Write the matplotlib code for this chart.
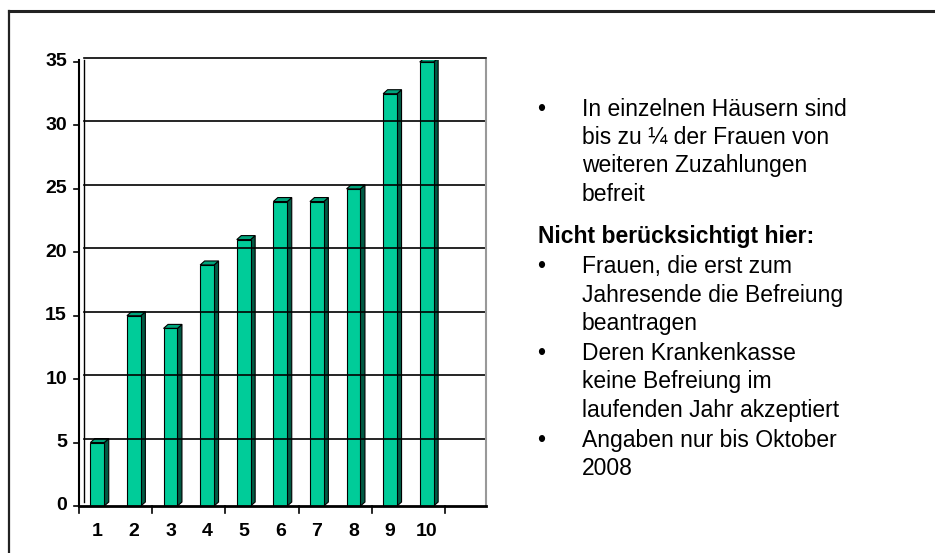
import matplotlib
matplotlib.use('Agg')
import matplotlib.pyplot as plt
from matplotlib.patches import Polygon, Rectangle
from matplotlib.lines import Line2D

plt.rcParams['font.family'] = ['Liberation Sans', 'DejaVu Sans']

# Daten
categories = ['1', '2', '3', '4', '5', '6', '7', '8', '9', '10']
values = [5, 15, 14, 19, 21, 24, 24, 25, 32.5, 35]
yticks = [0, 5, 10, 15, 20, 25, 30, 35]

bullet_block1 = ['In einzelnen Häusern sind',
                 'bis zu ¼ der Frauen von',
                 'weiteren Zuzahlungen',
                 'befreit']
heading = 'Nicht berücksichtigt hier:'
bullet_items = [['Frauen, die erst zum', 'Jahresende die Befreiung', 'beantragen'],
                ['Deren Krankenkasse', 'keine Befreiung im', 'laufenden Jahr akzeptiert'],
                ['Angaben nur bis Oktober', '2008']]

W, H = 935, 553
fig = plt.figure(figsize=(W / 100, H / 100), dpi=100)

# Rahmen
fig.add_artist(Line2D([9 / W, 9 / W], [0, 1 - 11 / H], color='#222222', lw=1.6))
fig.add_artist(Line2D([9 / W, 1], [1 - 11 / H, 1 - 11 / H], color='#222222', lw=2.2))

# Diagramm
left, right, bottom, top = 79, 486, 506, 60
ax = fig.add_axes([left / W, 1 - bottom / H, (right - left) / W, (bottom - top) / H])
cat_px = 36.6
xmax = 0.5 + (right - left) / cat_px
ymax = 35 + 2 / 12.69
ax.set_xlim(0.5, xmax)
ax.set_ylim(0, ymax)
ax.axis('off')

dx = 4.5 / cat_px
dy = 4 / 12.69

# Gitterlinien an der Rückwand
for t in yticks[1:]:
    ax.plot([0.5 + dx, xmax], [t + dy, t + dy], color='black', lw=1.2, clip_on=False)
ax.plot([0.5 + dx, 0.5 + dx], [dy, ymax], color='black', lw=1.0, clip_on=False)
ax.plot([xmax, xmax], [0, ymax], color='#999999', lw=1.5, clip_on=False)
ax.plot([0.5, 0.5], [0, ymax], color='black', lw=1.5, clip_on=False)
ax.plot([0.5, xmax], [0, 0], color='black', lw=2.0, clip_on=False)

# Balken
w = 0.38
for i, v in enumerate(values):
    x = i + 1
    x0, x1 = x - w / 2, x + w / 2
    side = Polygon([(x1, 0), (x1 + dx, dy), (x1 + dx, v + dy), (x1, v)],
                   facecolor='#005a44', edgecolor='black', lw=0.8)
    topf = Polygon([(x0, v), (x1, v), (x1 + dx, v + dy), (x0 + dx, v + dy)],
                   facecolor='#00a57c', edgecolor='black', lw=0.8)
    front = Rectangle((x0, 0), w, v, facecolor='#00cc99', edgecolor='black', lw=0.8)
    for p in (side, topf, front):
        ax.add_patch(p)

# Achsenbeschriftung
yscale = (bottom - top) / ymax
for t in yticks:
    ax.plot([0.5 - 5 / cat_px, 0.5], [t, t], color='black', lw=1.2, clip_on=False)
    ax.text(0.5 - 12 / cat_px, t, str(t), ha='right', va='center',
            fontsize=14, fontweight='bold')
for b in [0.5, 2.5, 4.5, 6.5, 8.5, 10.5]:
    ax.plot([b, b], [0, -7 / yscale], color='black', lw=1.2, clip_on=False)
for i, c in enumerate(categories):
    ax.text(i + 1, -25 / yscale, c, ha='center', va='center',
            fontsize=14, fontweight='bold')

# Text rechts
fs = 16.5
lines1_y = [116, 144, 172, 201]
fig.text(541 / W, 1 - lines1_y[0] / H, '•', ha='center', va='baseline', fontsize=fs)
for s, y in zip(bullet_block1, lines1_y):
    fig.text(582 / W, 1 - y / H, s, ha='left', va='baseline', fontsize=fs)

fig.text(538 / W, 1 - 243 / H, heading, ha='left', va='baseline',
         fontsize=fs, fontweight='bold')

items_y = [[273, 302, 330], [360, 388, 417], [447, 475]]
for item, ys in zip(bullet_items, items_y):
    fig.text(541 / W, 1 - ys[0] / H, '•', ha='center', va='baseline', fontsize=fs)
    for s, y in zip(item, ys):
        fig.text(582 / W, 1 - y / H, s, ha='left', va='baseline', fontsize=fs)

fig.savefig('out.png', dpi=100)
